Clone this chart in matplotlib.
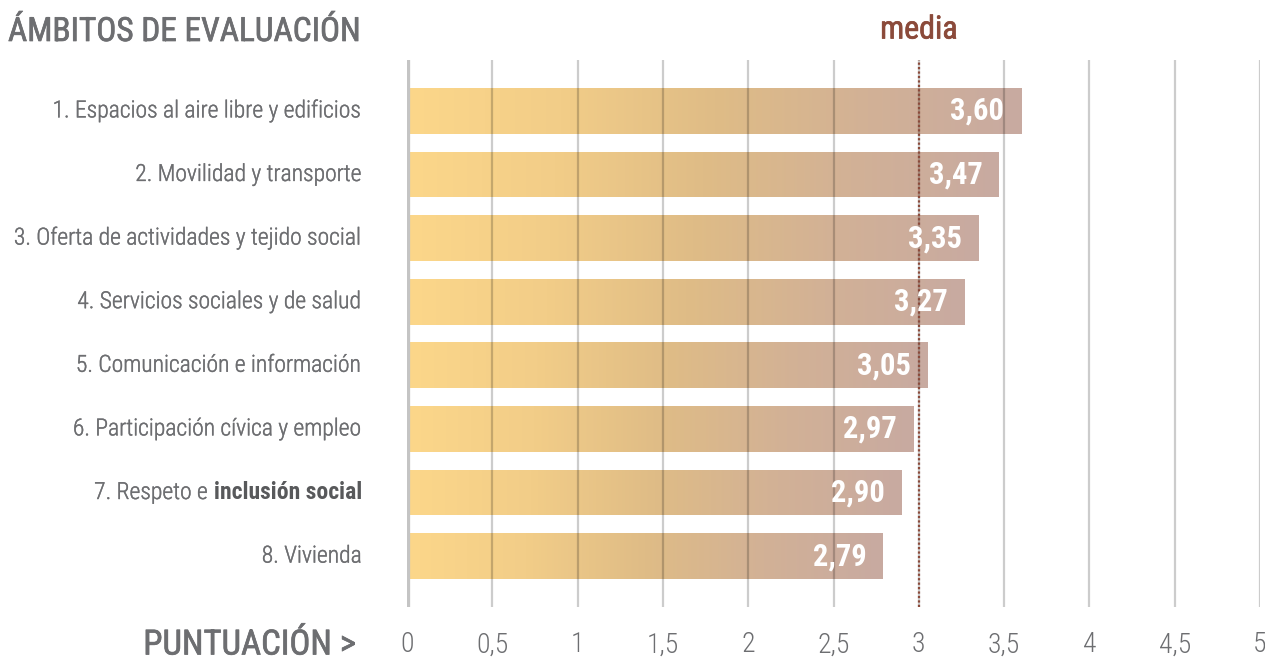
import matplotlib

matplotlib.use("Agg")
import matplotlib.patheffects as pe
import matplotlib.pyplot as plt
import numpy as np
from matplotlib import font_manager
from matplotlib.colors import LinearSegmentedColormap

categories = [
    "1. Espacios al aire libre y edificios",
    "2. Movilidad y transporte",
    "3. Oferta de actividades y tejido social",
    "4. Servicios sociales y de salud",
    "5. Comunicación e información",
    "6. Participación cívica y empleo",
    "7. Respeto e inclusión social",
    "8. Vivienda",
]
bold_tail = {6: "inclusión social"}
scores = [3.60, 3.47, 3.35, 3.27, 3.05, 2.97, 2.90, 2.79]
ticks = [0, 0.5, 1, 1.5, 2, 2.5, 3, 3.5, 4, 4.5, 5]
tick_labels = ["0", "0,5", "1", "1,5", "2", "2,5", "3", "3,5", "4", "4,5", "5"]
media = 3.0

installed = {f.name for f in font_manager.fontManager.ttflist}
font = next(
    (n for n in ["Roboto Condensed", "Liberation Sans Narrow", "Open Sans Condensed", "Roboto"]
     if n in installed),
    "DejaVu Sans",
)
plt.rcParams["font.family"] = [font, "DejaVu Sans"]

GRAY = "#6d6e71"
BROWN = "#8b4a3a"
grad = LinearSegmentedColormap.from_list(
    "bar", ["#fcd78a", "#f2cd88", "#dfbc86", "#d2b196", "#c8aaa1"]
)


def thick(color, w=0.5):
    return [pe.withStroke(linewidth=w, foreground=color)]


fig = plt.figure(figsize=(12.65, 6.62), dpi=100)
ax = fig.add_axes([407 / 1265, 1 - 607 / 662, 853 / 1265, 547 / 662])
ax.axis("off")

y = np.arange(len(scores))
bars = ax.barh(y, scores, height=0.72, color="none", edgecolor="none", zorder=2)
g = np.linspace(0, 1, 256).reshape(1, -1)
for b in bars:
    x0, y0 = b.get_x(), b.get_y()
    img = ax.imshow(
        g, cmap=grad, aspect="auto", zorder=2,
        extent=[x0, x0 + b.get_width(), y0 + b.get_height(), y0],
    )
    img.set_clip_path(b)
ax.set_xlim(0, 5)
ax.set_ylim(len(scores) - 0.2, -0.8)

for t in ticks[1:]:
    ax.axvline(t, color="black", alpha=0.2, lw=1.6, zorder=3)
ax.axvline(0, color="#c4c4c4", lw=3.8, zorder=3)
ax.axvline(media, color=BROWN, lw=1.6, ls=(0, (1, 1)), zorder=4)

for yi, v in zip(y, scores):
    ax.annotate(
        f"{v:.2f}".replace(".", ","), (v, yi), xytext=(-12, 0),
        textcoords="offset points", ha="right", va="center",
        color="white", fontsize=22, fontweight="bold", zorder=5,
    )

for t, lab in zip(ticks, tick_labels):
    ax.annotate(
        lab, (t, 1), xycoords=("data", "figure fraction"),
        xytext=(t, 1 - 645 / 662), textcoords=("data", "figure fraction"),
        ha="center", va="center", color=GRAY, fontsize=20, fontweight="light",
    )

lab_x = 362 / 1265
fig.canvas.draw()
renderer = fig.canvas.get_renderer()
for i, lab in enumerate(categories):
    yy = ax.transData.transform((0, y[i]))[1] / fig.bbox.height
    if i in bold_tail:
        tail = bold_tail[i]
        head = lab[: -len(tail)]
        t2 = fig.text(lab_x, yy, tail, ha="right", va="center",
                      color="#58595b", fontsize=17, fontweight="bold")
        bb = t2.get_window_extent(renderer)
        fig.text(bb.x0 / fig.bbox.width, yy, head, ha="right", va="center",
                 color=GRAY, fontsize=17, fontweight="light",
                 path_effects=thick(GRAY, 0.25))
    else:
        fig.text(lab_x, yy, lab, ha="right", va="center", color=GRAY,
                 fontsize=17, fontweight="light", path_effects=thick(GRAY, 0.25))

fig.text(8 / 1265, 1 - 32 / 662, "ÁMBITOS DE EVALUACIÓN", ha="left", va="center",
         color=GRAY, fontsize=24, path_effects=thick(GRAY))
fig.text(919 / 1265, 1 - 30 / 662, "media", ha="center", va="center",
         color=BROWN, fontsize=23, path_effects=thick(BROWN))
fig.text(356 / 1265, 1 - 645 / 662, "PUNTUACIÓN >", ha="right", va="center",
         color=GRAY, fontsize=25, path_effects=thick(GRAY))

fig.savefig("out.png", dpi=100)
